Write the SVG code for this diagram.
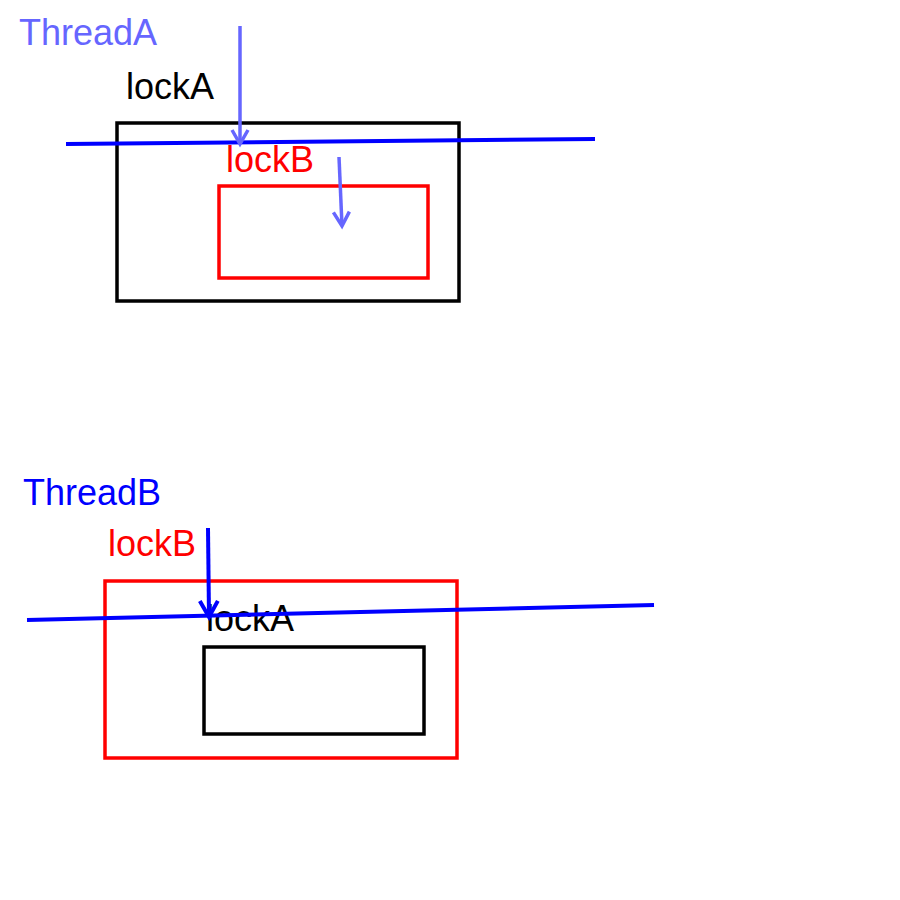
<svg xmlns="http://www.w3.org/2000/svg" width="900" height="900" viewBox="0 0 900 900">
<style>
text{font-family:"Liberation Sans",Arial,Helvetica,sans-serif;font-size:36px}
.box{fill:none;stroke-width:3.5}
.line{fill:none;stroke:#0000ff;stroke-width:4;stroke-linecap:butt}
.arA{fill:none;stroke:#6666ff;stroke-width:3.5}
.arB{fill:none;stroke:#0000ff;stroke-width:4}
</style>
<defs>
<marker id="vA" markerUnits="userSpaceOnUse" viewBox="0 0 24 24" refX="20" refY="12" markerWidth="24" markerHeight="24" orient="auto">
<path d="M6,4 L20,12 L6,20" fill="none" stroke="#6666ff" stroke-width="3.5"/>
</marker>
<marker id="vB" markerUnits="userSpaceOnUse" viewBox="0 0 24 24" refX="20" refY="12" markerWidth="24" markerHeight="24" orient="auto">
<path d="M4,3 L20,12 L4,21" fill="none" stroke="#0000ff" stroke-width="4"/>
</marker>
</defs>
<rect width="900" height="900" fill="#fff"/>
<g id="threadA-label"><text x="19" y="45" fill="#6666ff">ThreadA</text></g>
<g id="lockA-outer">
<rect class="box" x="117" y="123" width="342" height="178" stroke="#000"/>
<text x="126" y="99" fill="#000">lockA</text>
</g>
<g id="lockB-inner">
<rect class="box" x="219" y="186" width="209" height="92" stroke="#f00"/>
<text x="226" y="172" fill="#f00">lockB</text>
</g>
<g id="threadB-label"><text x="23" y="505" fill="#0000ff">ThreadB</text></g>
<g id="lockB-outer">
<rect class="box" x="105" y="581" width="352" height="177" stroke="#f00"/>
<text x="108" y="556" fill="#f00">lockB</text>
</g>
<g id="lockA-inner">
<rect class="box" x="204" y="647" width="220" height="87" stroke="#000"/>
<text x="206" y="631" fill="#000">lockA</text>
</g>
<g id="connectors">
<path class="line" d="M66,144 L595,139"/>
<path class="arA" d="M240,26 L240,144" marker-end="url(#vA)"/>
<path class="arA" d="M339,157 L342,226" marker-end="url(#vA)"/>
<path class="line" d="M27,620 L654,605"/>
<path class="arB" d="M208,528 L209,617" marker-end="url(#vB)"/>
</g>
</svg>
